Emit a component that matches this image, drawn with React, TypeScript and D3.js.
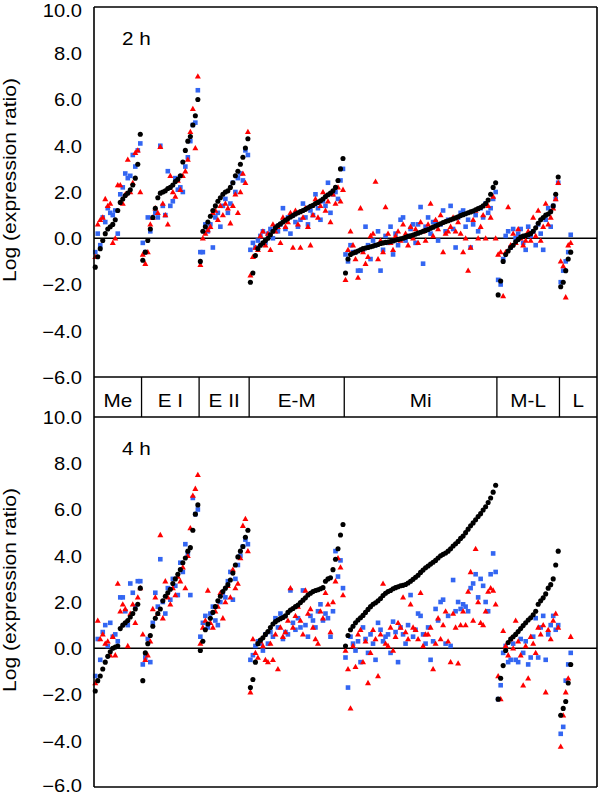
import React from "react";
import * as d3 from "d3";

const groupNames = ["Me", "E I", "E II", "E-M", "Mi", "M-L", "L"];
const axisSlots = 201; // gene slots along the x axis (incl. empty tail of L band)
const yTickValues = [10, 8, 6, 4, 2, 0, -2, -4, -6];

const black2h = [
  [-1.25, -0.8, -0.45, -0.1, 0.2, 0.4, 0.5, 0.6, 0.8, 1.2, 1.55, 1.7, 1.85, 1.95, 2.1, 2.3, 2.6, 3.2, 4.5],
  [-0.95, -0.6, -0.1, 0.4, 0.9, 1.3, 1.75, 1.95, 2.0, 2.05, 2.15, 2.2, 2.3, 2.45, 2.55, 2.7, 3.3, 3.8, 4.2, 4.4, 4.9, 5.3, 6.0],
  [-1.0, 0.3, 0.5, 0.7, 0.95, 1.2, 1.4, 1.6, 1.75, 1.9, 2.0, 2.05, 2.2, 2.4, 2.7, 2.9, 3.2, 3.5, 3.9, 4.3],
  [-1.9, -1.5, -0.75, -0.45, -0.3, -0.2, -0.1, 0.0, 0.15, 0.3, 0.45, 0.55, 0.62, 0.7, 0.78, 0.85, 0.92, 0.98, 1.05, 1.1, 1.15, 1.2, 1.25, 1.32, 1.38, 1.42, 1.5, 1.55, 1.62, 1.7, 1.8, 1.88, 1.95, 2.05, 2.2, 2.5, 3.0, 3.45],
  [-1.5, -0.9, -0.7, -0.65, -0.6, -0.55, -0.5, -0.45, -0.42, -0.4, -0.37, -0.34, -0.3, -0.27, -0.23, -0.2, -0.18, -0.16, -0.14, -0.12, -0.08, -0.05, -0.02, 0.0, 0.04, 0.08, 0.11, 0.14, 0.18, 0.22, 0.26, 0.3, 0.34, 0.38, 0.43, 0.48, 0.53, 0.58, 0.63, 0.68, 0.72, 0.76, 0.8, 0.84, 0.88, 0.93, 0.98, 1.02, 1.06, 1.1, 1.14, 1.18, 1.23, 1.28, 1.33, 1.4, 1.5, 1.65, 1.9, 2.2, 2.4],
  [-2.45, -1.85, -1.0, -0.7, -0.55, -0.4, -0.3, -0.15, -0.05, 0.05, 0.1, 0.12, 0.15, 0.2, 0.3, 0.45, 0.65, 0.8, 0.9, 1.0, 1.05, 1.15, 1.4, 1.9, 2.65],
  [-2.1, -1.9, -1.4, -0.9, -0.6],
];

const blue2h = [
  [-0.6, 0.2, -0.3, 0.9, 0.7, 1.3, 1.1, 1.0, 1.2, 0.2, 1.9, 2.2, 2.8, 2.6, 2.7, 3.6, 3.1, 3.8, 4.1],
  [-0.2, -0.6, 0.9, 0.3, 0.9, 1.1, 0.9, 4.0, 1.4, 1.0, 2.9, 1.4, 1.6, 2.6, 2.1, 2.2, 2.0, 3.1, 3.5, 4.2, 4.9, 5.0, 6.4],
  [-0.6, -0.6, 0.6, 0.3, 0.6, -0.4, 0.9, 1.1, 0.5, 1.4, 1.7, 1.1, 1.5, 2.4, 2.0, 2.6, 2.8, 2.5, 3.8, 3.6],
  [-0.5, -0.2, -0.4, -0.1, 0.1, 0.3, -0.2, 0.2, 0.4, 0.0, 0.5, 0.3, 0.6, 1.3, 0.4, 0.9, 0.2, 1.0, 0.7, 0.5, 0.8, 1.5, 0.9, 0.6, 1.2, 1.0, 1.9, 1.3, 0.8, 1.6, 1.4, 2.4, 1.1, 1.9, 2.0, 1.7, 2.5, 3.0],
  [-0.7, -1.0, -0.3, -0.6, -0.6, -1.4, -1.4, -0.5, 0.5, -0.3, -0.9, -0.1, -0.3, 0.3, -1.4, -0.5, 0.1, -0.2, 0.5, -0.7, 0.2, -0.3, 0.8, 0.9, -0.1, 0.1, 0.4, 0.6, -0.2, 0.6, 1.35, -1.1, 0.5, 0.9, 0.2, 0.7, 0.7, -0.1, 0.6, 1.2, 0.3, 0.8, 1.4, 0.4, -0.4, 0.9, 1.1, 1.2, 0.5, 0.8, -0.4, 0.6, 1.0, 0.3, 1.3, 0.9, 1.5, 1.1, 1.3, 1.7, 2.0],
  [-1.8, -2.0, -0.9, 0.1, 0.3, -0.4, 0.4, 0.0, 0.2, 0.4, -0.2, -0.5, 0.5, 0.1, 0.3, -0.3, 0.6, 0.2, -0.5, 0.8, 1.3, 0.5, 1.4, 1.7, 2.4],
  [-1.9, -1.4, -1.0, -0.6, 0.15],
];

const red2h = [
  [-0.8, 0.6, 0.8, 0.9, 1.7, 1.4, 1.5, -0.2, 0.0, 2.3, 2.3, 1.5, 1.9, 3.4, 2.0, 2.4, 3.7, 3.8, 2.0],
  [-0.7, -1.1, -0.6, 0.6, 0.9, 1.3, 1.1, 3.95, 1.5, 1.0, 0.6, 2.7, 2.0, 1.8, 2.5, 2.1, 2.7, 2.9, 3.4, 4.6, 5.6, 3.9, 7.0],
  [-1.15, 0.0, 0.2, 0.35, 0.5, 1.1, 1.2, 0.8, 1.4, 1.0, 1.5, 1.3, 0.65, 1.4, 1.9, 1.1, 2.0, 2.8, 2.4, 4.6],
  [-1.6, -0.8, -0.4, -0.5, 0.1, 0.3, -0.3, 0.2, -0.5, 0.6, 0.3, 0.5, -0.2, 0.9, 0.5, 0.7, 1.1, -0.4, 1.2, 0.6, -0.4, 0.9, 1.3, 0.5, -0.3, 1.0, 1.7, 0.9, 1.4, 2.0, 1.2, 1.6, 0.7, 1.9, 1.5, 2.2, 1.6, 2.1],
  [-1.8, -0.5, 0.3, -0.3, -0.9, -1.7, 1.3, -0.6, -1.1, -0.8, 0.1, 0.2, 2.45, -0.9, -0.1, -0.6, 1.35, 0.2, -0.2, -0.5, 0.1, 0.3, -0.1, 0.6, 0.2, -0.3, 0.5, 0.0, 0.4, -0.2, 0.7, 0.3, -0.1, 0.6, 1.5, 0.1, 0.8, 0.4, 1.0, -0.6, 0.2, 0.3, 0.5, 0.9, 0.3, 0.7, 0.2, -0.6, 0.0, -1.4, -0.4, 0.8, 1.2, 0.0, 0.5, 1.0, 0.0, 1.4, 0.9, 1.8, 0.0],
  [-0.7, -0.6, -2.5, -0.6, 1.35, -0.3, 0.2, -0.2, 0.4, 0.0, -0.3, -0.1, 0.3, -0.1, 0.9, 0.1, 1.2, -0.1, 0.5, 1.5, 0.6, 0.9, 1.3, 1.7, 2.4],
  [-1.0, -1.2, -2.55, -0.3, -0.2],
];

const black4h = [
  [-1.85, -1.4, -1.2, -0.9, -0.6, -0.35, -0.15, 0.0, 0.05, 0.1, 0.85, 1.0, 1.1, 1.2, 1.35, 1.5, 1.7, 1.9, 2.6],
  [-1.4, -0.2, 0.2, 0.55, 0.95, 1.3, 1.5, 1.7, 2.05, 2.25, 2.4, 2.55, 2.8, 3.0, 3.2, 3.4, 3.7, 3.9, 4.2, 4.35, 5.1, 5.8, 6.2],
  [-0.1, 0.3, 0.8, 1.05, 1.3, 1.55, 1.8, 2.05, 2.25, 2.45, 2.6, 2.75, 2.95, 3.25, 3.6, 3.95, 4.2, 4.4, 4.8, 5.1],
  [-1.7, -1.35, -0.6, 0.2, 0.35, 0.45, 0.6, 0.72, 0.9, 1.05, 1.15, 1.22, 1.28, 1.33, 1.4, 1.55, 1.65, 1.72, 1.8, 1.87, 1.98, 2.08, 2.18, 2.3, 2.38, 2.45, 2.5, 2.53, 2.57, 2.62, 2.9, 3.0, 3.05, 3.4, 3.85, 4.3, 4.9, 5.35],
  [0.1, 0.55, 0.8, 0.95, 1.1, 1.22, 1.32, 1.42, 1.55, 1.68, 1.8, 1.9, 1.97, 2.05, 2.15, 2.28, 2.38, 2.45, 2.5, 2.57, 2.62, 2.66, 2.7, 2.72, 2.76, 2.82, 2.9, 2.98, 3.07, 3.16, 3.28, 3.38, 3.48, 3.56, 3.64, 3.72, 3.8, 3.9, 4.0, 4.06, 4.12, 4.2, 4.3, 4.42, 4.52, 4.62, 4.75, 4.85, 5.0, 5.15, 5.3, 5.42, 5.56, 5.7, 5.82, 5.98, 6.12, 6.3, 6.5, 6.75, 7.05],
  [-2.2, -1.3, -0.75, -0.1, 0.25, 0.4, 0.5, 0.6, 0.72, 0.85, 0.98, 1.1, 1.22, 1.32, 1.45, 1.6, 1.9, 2.05, 2.18, 2.35, 2.6, 2.75, 3.0, 3.6, 4.2],
  [-2.9, -2.6, -2.3, -1.5, -0.7],
];

const blue4h = [
  [-1.2, 0.4, -0.5, 0.7, 1.0, 0.1, 1.1, 0.5, 0.6, 0.3, 2.2, 2.2, 1.6, 1.0, 2.8, 2.4, 1.8, 2.9, 2.9],
  [-0.7, -0.4, 0.4, -0.6, 1.1, 2.4, 1.8, 3.85, 2.0, 1.5, 2.6, 2.1, 3.0, 2.7, 2.3, 3.7, 3.3, 4.5, 4.1, 2.3, 6.5, 5.8, 6.0],
  [0.5, 1.1, 1.4, 0.9, 1.5, 1.8, 1.2, 1.0, 2.0, 2.4, 2.2, 2.9, 3.3, 2.1, 3.0, 3.6, 4.0, 4.4, 4.7, 4.5],
  [-0.5, -0.3, 0.1, 0.3, 0.2, -0.1, 0.6, 0.2, 0.7, 0.5, 1.3, 0.9, 1.5, 0.4, 0.7, 0.6, 2.5, 1.1, 0.8, 1.3, 0.9, 2.5, 1.0, 0.5, 1.4, 1.2, 0.9, 1.6, 1.9, 1.2, 1.5, 1.3, 0.5, 1.6, 4.2, 3.1, 3.8, 2.6],
  [-0.4, -1.7, 0.5, 0.2, -0.1, 0.3, -0.6, 0.9, 0.4, -0.2, 0.6, 0.2, -0.5, 1.1, 0.8, 0.3, 0.5, 0.6, -0.2, 1.15, 0.7, -0.6, 0.9, 0.6, 0.2, 1.0, 2.3, 0.5, 0.8, 1.5, 1.4, 0.6, 0.2, 0.9, -0.5, 0.3, 1.7, 1.2, 2.0, 2.1, 0.2, 1.4, 0.1, 2.95, 1.6, 2.0, 1.7, 1.9, 1.8, 1.6, 2.6, 2.8, 3.2, 2.2, 3.0, 2.7, 2.0, 1.6, 3.2, 4.1, 3.3],
  [-2.2, -1.6, -0.2, 0.1, -0.6, -0.5, 0.2, -0.5, -0.6, 0.4, -0.2, 0.3, -0.7, -0.4, 0.5, 1.3, -0.4, 0.9, 1.4, -0.5, 0.6, 1.0, 1.4, 0.8, 1.0],
  [-3.7, -3.4, -1.4, -0.7, -0.2],
];

const red4h = [
  [-1.5, 1.2, 0.4, 0.6, 0.2, 0.3, -0.3, 0.5, -0.3, 2.8, 1.6, 1.9, 1.7, 0.1, 1.5, 1.9, 1.1, 2.2, 2.6],
  [0.6, -0.5, -0.3, 0.3, 1.7, 2.2, 1.5, 4.9, 1.3, 2.9, 2.2, 1.9, 2.6, 2.3, 3.1, 2.9, 3.5, 2.6, 4.0, 5.2, 6.6, 6.9, 7.5],
  [0.2, 0.9, 1.2, 2.5, 1.1, 0.9, 1.6, 1.8, 2.4, 1.3, 2.0, 2.7, 2.2, 3.4, 2.6, 2.8, 3.9, 5.3, 5.6, 4.2],
  [-1.9, 0.4, -0.2, -0.4, 0.3, 0.1, -0.5, -0.6, 0.2, -0.5, 0.6, -0.9, 0.9, 0.5, 0.7, 1.2, 2.6, 0.9, 1.4, 1.8, 1.2, 0.6, 2.5, 1.5, 1.7, 0.9, 0.4, 0.2, 1.6, 1.3, 2.4, 1.9, 0.7, 2.0, 2.9, 3.9, 3.5, 2.3],
  [-0.1, -0.9, -2.6, 0.1, -0.8, 0.6, 0.8, -0.6, 0.3, -1.5, -0.2, 0.8, 0.4, -1.2, 0.6, 2.8, 0.2, 0.1, 0.9, -0.1, 0.5, 1.1, 0.9, 2.2, 0.7, 0.4, 1.9, 0.9, 0.8, 0.4, 2.4, 0.1, 0.6, 0.6, 0.9, -0.9, 0.2, 1.3, 0.4, 1.0, 1.6, 0.3, -0.6, 1.5, 0.9, -0.65, 1.0, 1.6, 1.0, 2.45, 3.3, 1.2, 4.3, 2.0, 1.1, 1.0, 1.6, 2.45, 2.6, 2.5, 1.9],
  [-1.2, -2.2, 0.75, 0.1, -0.3, 0.4, 0.0, 1.2, 0.3, -0.3, -1.6, 0.1, -1.3, 0.5, 0.2, -0.2, 0.9, 0.6, 1.0, -1.9, 0.8, 0.4, 1.2, 1.5, 0.9],
  [-4.25, -2.9, -1.9, -1.3, 0.5],
];

const panelLabels = ["2 h", "4 h"];

const FONT = "'Liberation Sans', Arial, Helvetica, sans-serif";
const BLUE = "#3366f2";
const RED = "#ff0000";

export default function App() {
  const W = 600;
  const H = 796;
  const left = 94;
  const right = 597;
  const plotH = 370;
  const panelTops = [7, 417];
  const bandTop = panelTops[0] + plotH; // 377
  const bandBottom = panelTops[1]; // 417
  const panels = [
    { label: panelLabels[0], black: black2h, blue: blue2h, red: red2h, top: panelTops[0] },
    { label: panelLabels[1], black: black4h, blue: blue4h, red: red4h, top: panelTops[1] },
  ];

  const x = d3.scaleLinear().domain([0, axisSlots]).range([left, right]);
  const sizes = black2h.map((g) => g.length);
  const offsets = [0, ...Array.from(d3.cumsum(sizes))];
  const fmt = d3.format(".1f");
  const lw = 1.6;

  const pts = (groups: number[][], y: d3.ScaleLinear<number, number>) => {
    const out: { cx: number; cy: number; key: string }[] = [];
    groups.forEach((g, gi) => {
      g.forEach((v, j) => {
        out.push({ cx: x(offsets[gi] + j + 0.5), cy: y(v), key: `${gi}-${j}` });
      });
    });
    return out;
  };

  return (
    <svg width={W} height={H} style={{ position: "absolute", left: 0, top: 0, background: "#fff" }} fontFamily={FONT}>
      <rect x={0} y={0} width={W} height={H} fill="#fff" />
      {panels.map((p, pi) => {
        const y = d3.scaleLinear().domain([-6, 10]).range([p.top + plotH, p.top]);
        const titleY = p.top + plotH / 2 - 12;
        return (
          <g key={pi}>
            <line x1={left} x2={right} y1={y(0)} y2={y(0)} stroke="#000" strokeWidth={1.6} />
            {yTickValues.map((t) => (
              <text
                key={t}
                transform={`translate(82,${Math.min(Math.max(y(t) + 6.8, 16.5), 791.5)}) scale(1.15,1)`}
                textAnchor="end"
                fontSize={17.5}
                fill="#000"
              >
                {fmt(t)}
              </text>
            ))}
            <text
              transform={`translate(16,${titleY}) rotate(-90) scale(1.14,1)`}
              textAnchor="middle"
              fontSize={18.5}
              fill="#000"
            >
              Log (expression ratio)
            </text>
            <text transform={`translate(122,${p.top + 37.5}) scale(1.18,1)`} fontSize={17.5} fill="#000">
              {p.label}
            </text>
            {pts(p.blue, y).map((d) => (
              <rect key={"b" + d.key} x={d.cx - 2.3} y={d.cy - 2.3} width={4.6} height={4.6} fill={BLUE} />
            ))}
            {pts(p.red, y).map((d) => (
              <path
                key={"r" + d.key}
                d={`M${d.cx},${d.cy - 3.1}L${d.cx + 3},${d.cy + 2.2}L${d.cx - 3},${d.cy + 2.2}Z`}
                fill={RED}
              />
            ))}
            {pts(p.black, y).map((d) => (
              <circle key={"k" + d.key} cx={d.cx} cy={d.cy} r={2.55} fill="#000" />
            ))}
          </g>
        );
      })}

      <line x1={left} x2={left} y1={panelTops[0]} y2={panelTops[1] + plotH} stroke="#000" strokeWidth={lw} />
      <line x1={right} x2={right} y1={panelTops[0]} y2={panelTops[1] + plotH} stroke="#000" strokeWidth={lw} />
      <line x1={left} x2={right} y1={panelTops[0]} y2={panelTops[0]} stroke="#000" strokeWidth={lw} />
      <line x1={left} x2={right} y1={bandTop} y2={bandTop} stroke="#000" strokeWidth={lw} />
      <line x1={left} x2={right} y1={bandBottom} y2={bandBottom} stroke="#000" strokeWidth={lw} />
      <line x1={left} x2={right} y1={panelTops[1] + plotH} y2={panelTops[1] + plotH} stroke="#000" strokeWidth={lw} />

      {groupNames.map((name, gi) => {
        const x0 = x(offsets[gi]);
        const x1 = gi === groupNames.length - 1 ? right : x(offsets[gi + 1]);
        return (
          <g key={name}>
            {gi > 0 && <line x1={x0} x2={x0} y1={bandTop} y2={bandBottom} stroke="#000" strokeWidth={1.3} />}
            <text
              transform={`translate(${(x0 + x1) / 2},${bandTop + 29.5}) scale(1.15,1)`}
              textAnchor="middle"
              fontSize={18}
              fill="#000"
            >
              {name}
            </text>
          </g>
        );
      })}
    </svg>
  );
}
